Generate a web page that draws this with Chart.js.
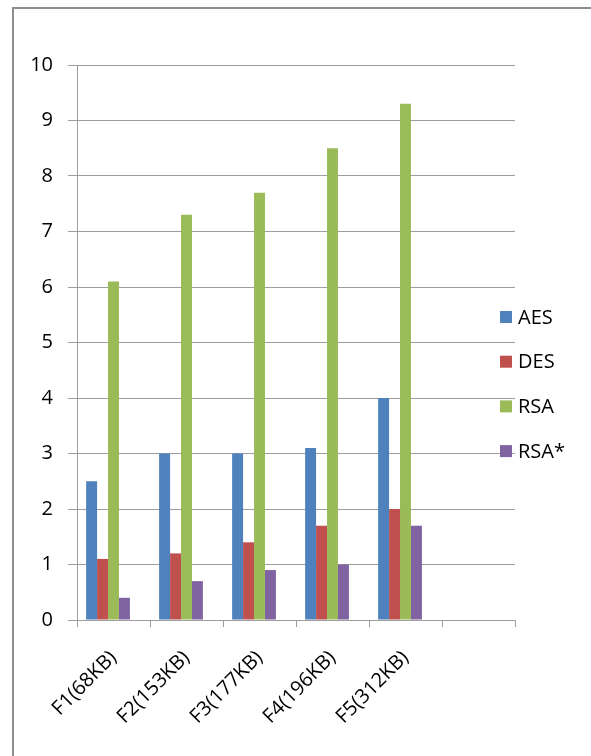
<!DOCTYPE html>
<html>
<head>
<meta charset="utf-8">
<script src="https://cdn.jsdelivr.net/npm/chart.js@4/dist/chart.umd.min.js"></script>
<style>
    html, body { margin: 0; padding: 0; background: #ffffff; }
    #wrap { position: relative; width: 591px; height: 756px; overflow: hidden; }
    #frame { position: absolute; left: 12px; top: 7px; width: 700px; height: 900px;
             border-left: 2px solid #8e8e8e; border-top: 2px solid #8e8e8e; }
    canvas { position: absolute; left: 0; top: 0; }
</style>
</head>
<body>
<div id="wrap">
    <div id="frame"></div>
    <canvas id="chart" width="591" height="756"></canvas>
</div>
<script>
const categories = ['F1(68KB)', 'F2(153KB)', 'F3(177KB)', 'F4(196KB)', 'F5(312KB)', '']
const seriesNames = ['AES', 'DES', 'RSA', 'RSA*']
const aesValues = [2.5, 3.0, 3.0, 3.1, 4.0]
const desValues = [1.1, 1.2, 1.4, 1.7, 2.0]
const rsaValues = [6.1, 7.3, 7.7, 8.5, 9.3]
const rsaStarValues = [0.4, 0.7, 0.9, 1.0, 1.7]
const yTicks = [0, 1, 2, 3, 4, 5, 6, 7, 8, 9, 10]

const colors = ['#4f81bd', '#c0504d', '#9bbb59', '#8064a2']
const fontFamily = '"Open Sans", "Liberation Sans", sans-serif'

// Excel legend on the right, drawn over the plot edge
const sideLegend = {
    id: 'sideLegend',
    afterDraw(chart) {
        const ctx = chart.ctx
        ctx.save()
        ctx.font = '20px ' + fontFamily
        ctx.textBaseline = 'middle'
        ctx.textAlign = 'left'
        seriesNames.forEach((name, i) => {
            const y = 317 + i * 44.7
            ctx.fillStyle = colors[i]
            ctx.fillRect(500, y - 6, 12, 12)
            ctx.fillStyle = '#000000'
            ctx.fillText(name, 518, y + 1)
        })
        ctx.restore()
    }
}

const values = [aesValues, desValues, rsaValues, rsaStarValues]
const datasets = seriesNames.map((name, i) => ({
    label: name,
    data: values[i],
    backgroundColor: colors[i],
    borderWidth: 0
}))
// blank fifth series, keeps the Excel grouping offset
datasets.push({ label: '', data: categories.map(() => null), backgroundColor: 'rgba(0,0,0,0)' })

new Chart(document.getElementById('chart'), {
    type: 'bar',
    data: { labels: categories, datasets },
    options: {
        responsive: false,
        animation: false,
        layout: { padding: { left: 0, top: 65, right: 76, bottom: 0 } },
        plugins: { legend: { display: false }, tooltip: { enabled: false } },
        datasets: { bar: { categoryPercentage: 0.75, barPercentage: 1 } },
        scales: {
            x: {
                grid: { display: true, offset: true, drawOnChartArea: false, color: '#9d9d9d', tickLength: 7, lineWidth: 1 },
                border: { color: '#9d9d9d' },
                ticks: {
                    color: '#000000',
                    font: { family: fontFamily, size: 20 },
                    maxRotation: 45, minRotation: 45,
                    padding: 19,
                    autoSkip: false
                },
                afterFit(scale) { scale.height = 756 - 620 }
            },
            y: {
                min: 0, max: 10,
                afterBuildTicks(scale) { scale.ticks = yTicks.map(v => ({ value: v })) },
                grid: { color: '#9d9d9d', tickLength: 9, lineWidth: 1 },
                border: { color: '#9d9d9d' },
                ticks: {
                    color: '#000000',
                    font: { family: fontFamily, size: 20 },
                    padding: 15
                },
                afterFit(scale) { scale.width = 77 }
            }
        }
    },
    plugins: [sideLegend]
})
</script>
</body>
</html>
